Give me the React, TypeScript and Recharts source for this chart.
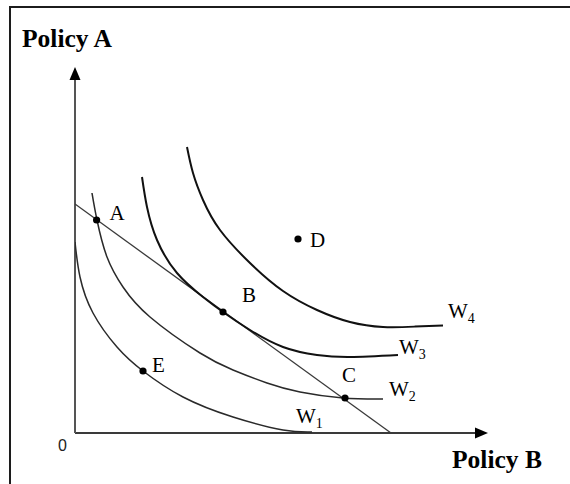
import {
  ComposedChart,
  Line,
  ReferenceDot,
  ReferenceLine,
  Scatter,
  XAxis,
  YAxis,
} from 'recharts';

// indifference curves (Policy B on x, Policy A on y)
const w1 = [
  { x: 0, y: 47.75 },
  { x: 1.25, y: 39 },
  { x: 4.5, y: 30 },
  { x: 10.5, y: 21.5 },
  { x: 17, y: 15.5 },
  { x: 27, y: 9 },
  { x: 39.5, y: 4 },
  { x: 52, y: 0.75 },
  { x: 59.25, y: 0.25 },
];
const w2 = [
  { x: 4.25, y: 60 },
  { x: 5.5, y: 53.25 },
  { x: 8, y: 44 },
  { x: 12, y: 36.5 },
  { x: 18.75, y: 29 },
  { x: 31.25, y: 20 },
  { x: 39.5, y: 15.75 },
  { x: 48, y: 12.5 },
  { x: 56.25, y: 10.25 },
  { x: 67, y: 8.75 },
  { x: 77, y: 8.5 },
];
const w3 = [
  { x: 16.75, y: 64 },
  { x: 18, y: 56.5 },
  { x: 20.5, y: 48.25 },
  { x: 25.5, y: 40 },
  { x: 32, y: 34 },
  { x: 37, y: 30.25 },
  { x: 43.75, y: 25.75 },
  { x: 52, y: 21.5 },
  { x: 60.5, y: 19.5 },
  { x: 68.75, y: 19 },
  { x: 80.75, y: 19.5 },
];
const w4 = [
  { x: 28, y: 71.5 },
  { x: 29.5, y: 65 },
  { x: 32, y: 58.25 },
  { x: 36.25, y: 50.75 },
  { x: 43.75, y: 42.5 },
  { x: 52, y: 35.5 },
  { x: 60.5, y: 30.75 },
  { x: 68.75, y: 27.75 },
  { x: 77, y: 26.5 },
  { x: 85, y: 26.6 },
  { x: 92, y: 26.9 },
];

// budget constraint
const budget = [
  { x: 0, y: 57.25 },
  { x: 79, y: 0 },
];

const points = [
  { name: 'A', x: 5.4, y: 53.25 },
  { name: 'B', x: 37, y: 30.25 },
  { name: 'C', x: 67.5, y: 8.75 },
  { name: 'D', x: 55.75, y: 48.5 },
  { name: 'E', x: 17, y: 15.5 },
];

const curves = [
  { name: 'W', sub: '1', data: w1 },
  { name: 'W', sub: '2', data: w2 },
  { name: 'W', sub: '3', data: w3 },
  { name: 'W', sub: '4', data: w4 },
];

const X_MAX = 104;
const Y_MAX = 92;

const pointLabelOffset: Record<string, [number, number]> = {
  A: [13, 0],
  B: [19, -10],
  C: [-3, -16],
  D: [12, 8],
  E: [9, 1],
};
const curveLabelOffset: Record<string, [number, number]> = {
  '1': [-16, -9],
  '2': [6, -3],
  '3': [1, -1],
  '4': [5, -7],
};
const curveStyle: Record<string, { stroke: string; width: number }> = {
  '1': { stroke: '#2a2a2a', width: 1.5 },
  '2': { stroke: '#2a2a2a', width: 1.5 },
  '3': { stroke: '#111', width: 2 },
  '4': { stroke: '#111', width: 2 },
};

const serif = '"Liberation Serif", "Times New Roman", serif';

const curveEnds = curves.map((c) => ({
  ...c.data[c.data.length - 1],
  name: c.name,
  sub: c.sub,
}));

function PointShape(props: any) {
  const { cx, cy, payload } = props;
  const [dx, dy] = pointLabelOffset[payload.name];
  return (
    <g>
      <circle cx={cx} cy={cy} r={3.6} fill="#000" />
      <text x={cx + dx} y={cy + dy} fontFamily={serif} fontSize={21} fill="#000">
        {payload.name}
      </text>
    </g>
  );
}

function CurveLabel(props: any) {
  const { cx, cy, payload } = props;
  const [dx, dy] = curveLabelOffset[payload.sub];
  return (
    <text x={cx + dx} y={cy + dy} fontFamily={serif} fontSize={21} fill="#000">
      {payload.name}
      <tspan fontSize={14} dy={5}>
        {payload.sub}
      </tspan>
    </text>
  );
}

export default function App() {
  return (
    <div
      style={{
        position: 'fixed',
        left: 0,
        top: 0,
        width: 570,
        height: 484,
        background: '#fff',
        overflow: 'hidden',
      }}
    >
      <div
        style={{
          position: 'absolute',
          left: 9,
          top: 6,
          width: 570,
          height: 490,
          borderTop: '2.5px solid #1c1c1c',
          borderLeft: '2.5px solid #1c1c1c',
        }}
      />
      <div style={{ position: 'absolute', left: 0, top: 0 }}>
        <ComposedChart
          width={570}
          height={484}
          margin={{ top: 65, right: 79, bottom: 51, left: 75 }}
        >
          <XAxis type="number" dataKey="x" domain={[0, X_MAX]} hide allowDataOverflow />
          <YAxis type="number" dataKey="y" domain={[0, Y_MAX]} hide allowDataOverflow />

          <ReferenceLine
            segment={[{ x: 0, y: 0 }, { x: 101, y: 0 }]}
            stroke="#3a3a3a"
            strokeWidth={2}
            ifOverflow="visible"
          />
          <ReferenceLine
            segment={[{ x: 0, y: 0 }, { x: 0, y: 89 }]}
            stroke="#555"
            strokeWidth={2}
            ifOverflow="visible"
          />
          <ReferenceDot
            x={103.25}
            y={0}
            ifOverflow="visible"
            shape={(p: any) => (
              <polygon
                points={`${p.cx},${p.cy} ${p.cx - 13},${p.cy - 5.5} ${p.cx - 13},${p.cy + 5.5}`}
                fill="#000"
              />
            )}
          />
          <ReferenceDot
            x={0}
            y={91.5}
            ifOverflow="visible"
            shape={(p: any) => (
              <polygon
                points={`${p.cx},${p.cy} ${p.cx - 5.5},${p.cy + 13} ${p.cx + 5.5},${p.cy + 13}`}
                fill="#000"
              />
            )}
          />

          <Line
            data={budget}
            dataKey="y"
            type="linear"
            stroke="#3a3a3a"
            strokeWidth={1.3}
            dot={false}
            activeDot={false}
            isAnimationActive={false}
          />
          {curves.map((c) => (
            <Line
              key={c.sub}
              data={c.data}
              dataKey="y"
              type="natural"
              stroke={curveStyle[c.sub].stroke}
              strokeWidth={curveStyle[c.sub].width}
              dot={false}
              activeDot={false}
              isAnimationActive={false}
            />
          ))}
          <Scatter
            data={curveEnds}
            dataKey="y"
            shape={CurveLabel}
            isAnimationActive={false}
          />
          <Scatter
            data={points}
            dataKey="y"
            shape={PointShape}
            isAnimationActive={false}
          />

          <text x={22} y={47} fontFamily={serif} fontWeight="bold" fontSize={25.5} fill="#000">
            Policy A
          </text>
          <text x={452} y={468} fontFamily={serif} fontWeight="bold" fontSize={25.5} fill="#000">
            Policy B
          </text>
          <text
            x={62.5}
            y={451}
            textAnchor="middle"
            fontFamily='"Liberation Sans", Arial, sans-serif'
            fontSize={16}
            fill="#222"
          >
            0
          </text>
        </ComposedChart>
      </div>
    </div>
  );
}
